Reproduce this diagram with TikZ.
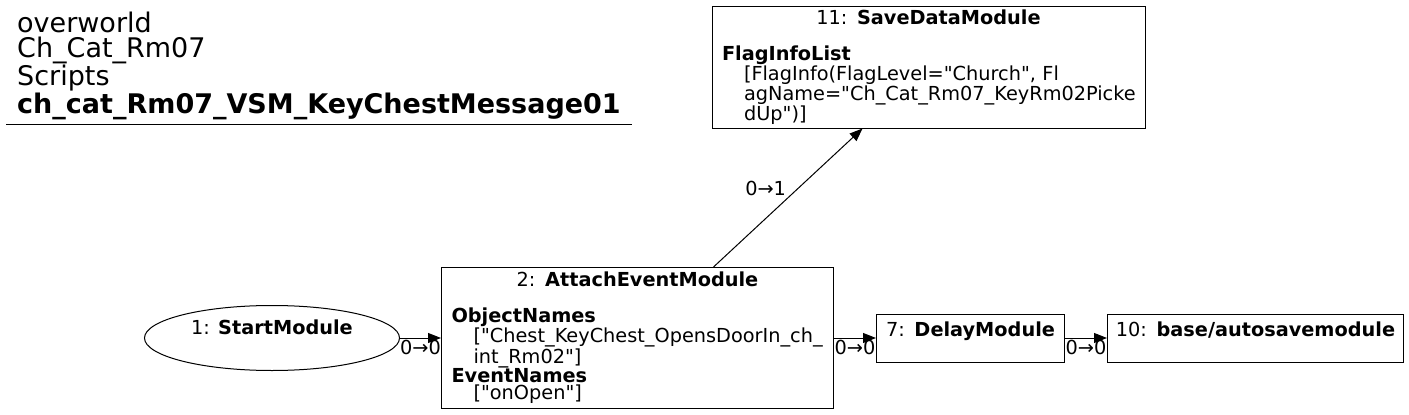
\documentclass[tikz,border=0pt]{standalone}
\usepackage{fontspec}
\setmainfont{DejaVu Sans}[Ligatures=TeXOff]
\usetikzlibrary{arrows.meta,calc,positioning,shapes.geometric}
\newcommand{\modhead}[2]{\makebox[\linewidth][c]{#1: \textbf{#2}}}
\newcommand{\ind}{\hspace*{22pt}}
\tikzset{
  modbox/.style={draw,rectangle,line width=1pt,inner xsep=10pt,inner ysep=0pt,align=left},
  startmod/.style={draw,ellipse,line width=1pt,minimum width=255pt,minimum height=65pt,inner sep=0pt},
  flow/.style={->,line width=1pt},
  portlab/.style={inner sep=1.5pt}
}
\begin{document}
\begin{tikzpicture}[x=1pt,y=-1pt,>={Triangle[length=13pt,width=10pt]},font=\fontsize{19.3}{17.3}\selectfont]
\useasboundingbox (0,0) rectangle (1409,415);
% title block
\node[anchor=north west,inner sep=0pt,align=left,font=\fontsize{27}{24.5}\selectfont] (title) at (17,12)
  {overworld\\Ch\_Cat\_Rm07\\Scripts\\[1pt]\textbf{ch\_cat\_Rm07\_VSM\_KeyChestMessage01}};
\draw[line width=1pt] (6,124) -- (632,124);
% modules
\node[startmod,label={[yshift=11pt]center:{1: \textbf{StartModule}}}] (start) at (272,338) {};
\node[modbox,minimum width=392pt,minimum height=141pt,text width=372pt,right=41pt of start] (attach)
  {\modhead{2}{AttachEventModule}\\[19pt]
   \textbf{ObjectNames}\\
   \ind["Chest\_KeyChest\_OpensDoorIn\_ch\_\\
   \ind int\_Rm02"]\\
   \textbf{EventNames}\\
   \ind["onOpen"]};
\node[modbox,minimum width=433pt,minimum height=122pt,text width=413pt] (save) at (928.5,67)
  {\modhead{11}{SaveDataModule}\\[19pt]
   \textbf{FlagInfoList}\\
   \ind[FlagInfo(FlagLevel="Church", Fl\\
   \ind agName="Ch\_Cat\_Rm07\_KeyRm02Picke\\
   \ind dUp")]};
\node[modbox,minimum width=188pt,minimum height=48pt,text width=168pt,right=42pt of attach] (delay)
  {\modhead{7}{DelayModule}\\\mbox{}};
\node[modbox,minimum width=296pt,minimum height=48pt,text width=276pt,right=42pt of delay] (autosave)
  {\modhead{10}{base/autosavemodule}\\\mbox{}};
% connectors
\draw[flow] (start) -- node[midway,below,portlab]{0→0} (attach);
\draw[flow] (attach) -- node[midway,below,portlab]{0→0} (delay);
\draw[flow] (delay) -- node[midway,below,portlab]{0→0} (autosave);
\draw[flow] ($(attach.north)+(76,0)$) -- node[midway,above left,portlab]{0→1} ($(save.south)+(-66,0)$);
\end{tikzpicture}
\end{document}
